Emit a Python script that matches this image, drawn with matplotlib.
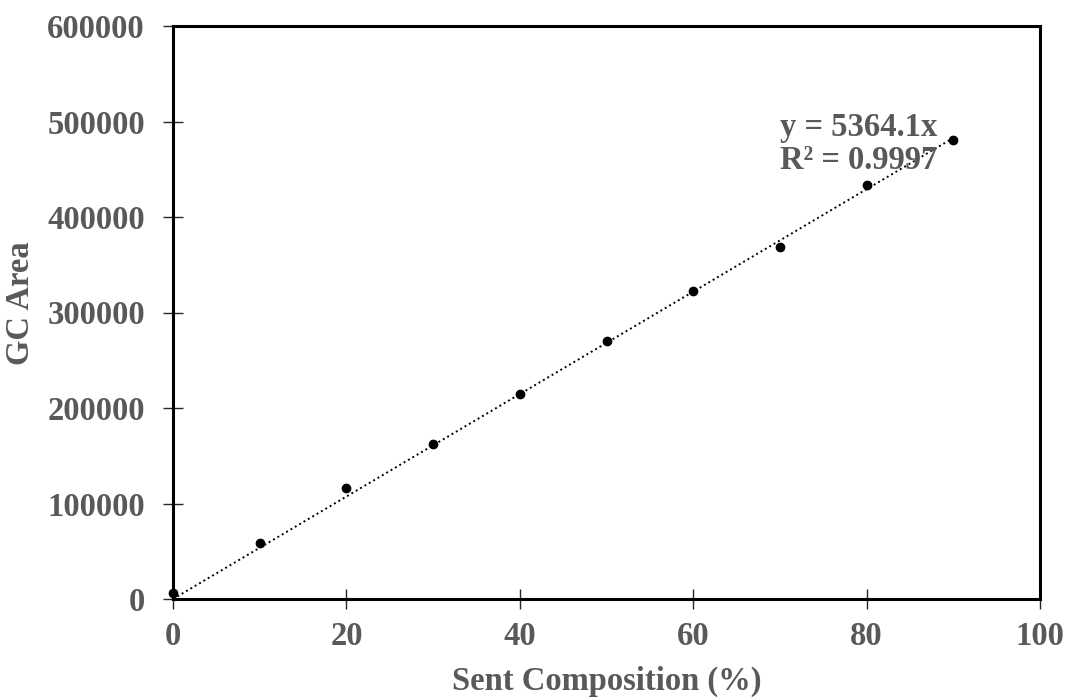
import numpy as np
import matplotlib
matplotlib.use("Agg")
import matplotlib.pyplot as plt

# Calibration data: sent composition vs. measured GC peak area
composition = [0, 10, 20, 30, 40, 50, 60, 70, 80, 90]
gc_area = [6000, 58300, 115900, 162300, 214300, 270200, 322500, 368300, 433800, 480300]
slope = 5364.1
r_squared = 0.9997

x_ticks = [0, 20, 40, 60, 80, 100]
y_ticks = [0, 100000, 200000, 300000, 400000, 500000, 600000]

label_color = "#595959"
font_size = 23.5
plt.rcParams["font.family"] = ["Liberation Serif", "DejaVu Serif"]
plt.rcParams["font.weight"] = "bold"

fig = plt.figure(figsize=(10.68, 7.0), dpi=100)
ax = fig.add_axes([173 / 1068, 1 - 599 / 700, (1040 - 173) / 1068, (599 - 26) / 700])

# Linear trendline through the origin
fit_x = np.array([0, composition[-1]], dtype=float)
ax.plot(fit_x, slope * fit_x, color="black", lw=1.4, linestyle=(0, (1, 1.6)), zorder=2)
ax.plot(composition, gc_area, "o", color="black", ms=6, zorder=3, clip_on=False)

ax.set_xlim(0, 100)
ax.set_ylim(0, 600000)
ax.set_xticks(x_ticks)
ax.set_yticks(y_ticks)
ax.set_xticklabels([str(v) for v in x_ticks])
ax.set_yticklabels([str(v) for v in y_ticks])

for sp in ax.spines.values():
    sp.set_linewidth(2.2)
    sp.set_color("black")

ax.tick_params(axis="both", direction="inout", length=14.4, width=1.0, color="#262626",
               labelsize=font_size, labelcolor=label_color)
ax.tick_params(axis="y", pad=13)
ax.tick_params(axis="x", pad=8.5)

ax.set_xlabel("Sent Composition (%)", fontsize=font_size, color=label_color,
              fontweight="bold", labelpad=10)
ax.set_ylabel("GC Area", fontsize=font_size, color=label_color, fontweight="bold")
ax.yaxis.set_label_coords(-0.158, 0.517)

ax.text(70, 449900, f"y = {slope}x\nR² = {r_squared}", fontsize=font_size, color=label_color,
        fontweight="bold", ha="left", va="baseline", linespacing=1.08)

fig.savefig("out.png", dpi=100)
